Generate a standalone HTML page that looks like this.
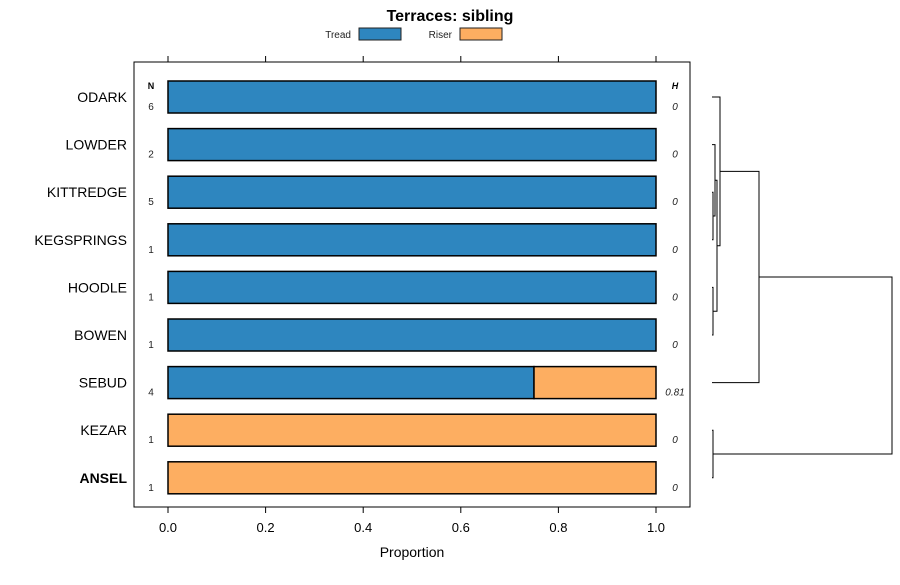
<!DOCTYPE html>
<html><head><meta charset="utf-8"><style>
body{margin:0;background:#fff;font-family:"Liberation Sans",sans-serif}
</style></head><body>
<svg id="c" width="900" height="580" xmlns="http://www.w3.org/2000/svg" font-family="Liberation Sans, sans-serif">
<text x="450" y="21" text-anchor="middle" font-size="16" font-weight="bold">Terraces: sibling</text>
<g>
<text x="351" y="38" text-anchor="end" font-size="10" fill="#222">Tread</text>
<rect x="359" y="28" width="42" height="12" fill="#2e86bf" stroke="#222"/>
<text x="452" y="38" text-anchor="end" font-size="10" fill="#222">Riser</text>
<rect x="460" y="28" width="42" height="12" fill="#fdae61" stroke="#222"/>
</g>
<rect x="134" y="62" width="556" height="445" fill="none" stroke="#000"/>
<text x="151" y="89" text-anchor="middle" font-size="9" font-weight="bold">N</text>
<text x="675" y="89" text-anchor="middle" font-size="9" font-weight="bold" font-style="italic">H</text>
<g id="axes"></g><g id="bars"></g><g id="dend"></g>
<text x="412" y="557" text-anchor="middle" font-size="14">Proportion</text>
</svg>
<script>
const categories=["ODARK","LOWDER","KITTREDGE","KEGSPRINGS","HOODLE","BOWEN","SEBUD","KEZAR","ANSEL"];
const treadValues=[1,1,1,1,1,1,0.75,0,0];
const riserValues=[0,0,0,0,0,0,0.25,1,1];
const nValues=["6","2","5","1","1","1","4","1","1"];
const hValues=["0","0","0","0","0","0","0.81","0","0"];
const xTicks=[0,0.2,0.4,0.6,0.8,1.0];
const xTickLabels=["0.0","0.2","0.4","0.6","0.8","1.0"];
// dendrogram merges: [left,right,height]; negative = leaf, positive = merge id (1-based)
const merges=[[-3,-4,1],[-5,-6,1],[-8,-9,1],[-2,1,3],[4,2,5],[-1,5,8],[6,-7,47],[7,3,180]];
const NS="http://www.w3.org/2000/svg";
const x=v=>168+v*488, y=i=>97+i*47.6;
function mk(t,a,p){const e=document.createElementNS(NS,t);for(const k in a)e.setAttribute(k,a[k]);p.appendChild(e);return e;}
const ax=document.getElementById('axes'),bars=document.getElementById('bars'),dd=document.getElementById('dend');
xTicks.forEach((v,i)=>{
 const t1=mk('line',{x1:x(v),x2:x(v),y1:507,y2:513,stroke:'#000'},ax);
 
 
 const t2=mk('line',{x1:x(v),x2:x(v),y1:56,y2:62,stroke:'#000'},ax);
 
 
 const l=mk('text',{x:x(v),y:532,'text-anchor':'middle','font-size':13},ax);l.textContent=xTickLabels[i];
 
 
});
categories.forEach((c,i)=>{
 const cy=y(i);
 const lab=mk('text',{x:127,y:cy+5,'text-anchor':'end','font-size':14,'font-weight':c==='ANSEL'?'bold':'normal'},ax);lab.textContent=c;
 
 
 if(treadValues[i]>0){const r=mk('rect',{x:x(0),y:cy-16,width:x(treadValues[i])-x(0),height:32,fill:'#2e86bf',stroke:'#000','stroke-width':1.5},bars);
  
  }
 if(riserValues[i]>0){const r=mk('rect',{x:x(treadValues[i]),y:cy-16,width:x(treadValues[i]+riserValues[i])-x(treadValues[i]),height:32,fill:'#fdae61',stroke:'#000','stroke-width':1.5},bars);
  
  }
 const n=mk('text',{x:151,y:cy+13,'text-anchor':'middle','font-size':10,fill:'#222'},ax);n.textContent=nValues[i];
 
 
 const h=mk('text',{x:675,y:cy+13,'text-anchor':'middle','font-size':10,'font-style':'italic',fill:'#222'},ax);h.textContent=hValues[i];
 
 
});
const dx=h=>712+h, pos=[];
function node(id){return id<0?{y:y(-id-1),h:0}:pos[id-1];}
merges.forEach(m=>{
 const a=node(m[0]),b=node(m[1]),X=dx(m[2]);
 const p=mk('path',{d:`M${dx(a.h)},${a.y}H${X}V${b.y}H${dx(b.h)}`,fill:'none',stroke:'#000','stroke-width':1},dd);
 
 
 pos.push({y:(a.y+b.y)/2,h:m[2]});
});
</script>
</body></html>
